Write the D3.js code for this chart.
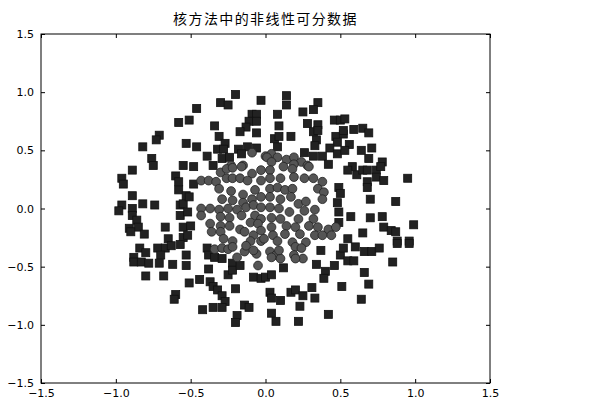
<!DOCTYPE html>
<html>
<head>
<meta charset="utf-8">
<script src="https://cdn.jsdelivr.net/npm/d3@7"></script>
<style>
  html, body { margin: 0; padding: 0; background: #fff; }
  svg { display: block; }
</style>
</head>
<body>
<svg id="chart" width="612" height="409"></svg>
<script>
const title = "核方法中的非线性可分数据";
const xTicks = [-1.5, -1.0, -0.5, 0.0, 0.5, 1.0, 1.5];
const yTicks = [-1.5, -1.0, -0.5, 0.0, 0.5, 1.0, 1.5];

// Outer class (squares)
const squares = [
  [-0.58,0.74],[-0.51,0.76],[-0.71,0.63],[-0.73,0.59],[-0.82,0.53],[-0.53,0.56],[-0.76,0.43],[-0.75,0.37],
  [-0.55,0.37],[-0.89,0.33],[-0.20,0.98],[-0.30,0.91],[-0.25,0.89],[-0.03,0.93],[-0.46,0.86],[-0.09,0.81],
  [-0.06,0.81],[-0.11,0.75],[-0.06,0.75],[-0.13,0.70],[-0.34,0.71],[-0.17,0.66],[-0.06,0.65],[-0.31,0.62],
  [-0.46,0.53],[-0.27,0.56],[-0.32,0.51],[-0.28,0.51],[-0.18,0.51],[-0.12,0.53],[-0.16,0.47],[-0.06,0.52],
  [-0.39,0.45],[-0.29,0.43],[-0.24,0.44],[-0.48,0.36],[-0.35,0.37],
  [0.14,0.97],[0.14,0.89],[0.35,0.91],[0.32,0.85],[0.08,0.81],[0.25,0.83],[0.46,0.76],[0.50,0.76],
  [0.28,0.73],[0.35,0.72],[0.09,0.71],[0.32,0.66],[0.35,0.67],[0.17,0.62],[0.06,0.60],[0.09,0.62],
  [0.47,0.62],[0.52,0.64],[0.34,0.59],[0.48,0.57],[0.08,0.53],[0.33,0.54],[0.43,0.52],[0.26,0.48],
  [0.32,0.45],[0.38,0.45],[0.48,0.47],[0.42,0.38],
  [0.53,0.77],[0.52,0.67],[0.59,0.68],[0.65,0.69],[0.69,0.65],[0.56,0.55],[0.53,0.50],[0.64,0.50],
  [0.71,0.52],[0.69,0.43],[0.78,0.40],[0.58,0.36],
  [-0.96,0.26],[-0.95,0.21],[-0.60,0.28],[-0.58,0.23],[-0.58,0.16],[-0.53,0.11],[-0.89,0.11],[-0.96,0.03],
  [-0.98,-0.02],[-0.82,0.04],[-0.74,0.03],[-0.89,0.00],[-0.57,0.03],[-0.55,0.04],[-0.57,-0.06],[-0.89,-0.06],
  [-0.86,-0.10],[-0.85,-0.16],[-0.91,-0.17],[-0.90,-0.20],[-0.81,-0.22],[-0.67,-0.16],[-0.55,-0.16],[-0.65,-0.26],
  [-0.55,-0.25],
  [-0.48,0.21],[-0.51,0.10],[-0.52,-0.03],[-0.50,-0.15],[-0.52,-0.23],
  [0.49,0.18],[0.50,0.13],[0.48,0.05],[0.49,-0.03],[0.49,-0.12],
  [0.55,0.33],[0.61,0.29],[0.65,0.33],[0.68,0.33],[0.74,0.33],[0.77,0.36],[0.74,0.27],[0.79,0.24],
  [0.68,0.23],[0.68,0.18],[0.95,0.26],[0.70,0.08],[0.87,0.06],[0.57,-0.07],[0.70,-0.08],[0.78,-0.07],
  [0.99,-0.14],[0.79,-0.16],[0.84,-0.19],[0.87,-0.20],[0.65,-0.21],[0.55,-0.26],[0.88,-0.28],[0.96,-0.28],
  [-0.84,-0.34],[-0.72,-0.34],[-0.67,-0.34],[-0.63,-0.32],[-0.57,-0.31],[-0.80,-0.38],[-0.88,-0.42],[-0.88,-0.46],
  [-0.83,-0.46],[-0.78,-0.47],[-0.71,-0.47],[-0.70,-0.40],[-0.62,-0.48],[-0.53,-0.49],[-0.53,-0.40],[-0.80,-0.58],
  [-0.68,-0.58],[-0.51,-0.64],[-0.60,-0.74],[-0.61,-0.78],
  [-0.39,-0.34],[-0.38,-0.40],[-0.34,-0.42],[-0.29,-0.43],[-0.38,-0.52],[-0.44,-0.61],[-0.37,-0.63],[-0.35,-0.67],
  [-0.32,-0.70],[-0.29,-0.75],[-0.27,-0.80],[-0.29,-0.85],[-0.35,-0.85],[-0.42,-0.87],[-0.25,-0.57],[-0.22,-0.47],
  [-0.22,-0.53],[-0.17,-0.49],[-0.20,-0.69],[-0.14,-0.83],[-0.11,-0.85],[-0.19,-0.92],[-0.20,-0.98],[-0.08,-0.59],
  [-0.03,-0.60],
  [0.12,-0.51],[0.37,-0.36],[0.34,-0.48],[0.40,-0.54],[0.46,-0.49],[0.39,-0.60],[0.50,-0.40],[0.51,-0.67],
  [0.00,-0.59],[0.04,-0.57],[0.03,-0.72],[0.04,-0.77],[0.10,-0.79],[0.17,-0.72],[0.20,-0.70],[0.25,-0.75],
  [0.31,-0.68],[0.33,-0.77],[0.23,-0.84],[0.04,-0.90],[0.07,-0.97],[0.22,-0.97],[0.42,-0.91],
  [0.52,-0.34],[0.60,-0.33],[0.66,-0.37],[0.71,-0.37],[0.76,-0.34],[0.88,-0.30],[0.96,-0.30],[0.55,-0.45],
  [0.59,-0.45],[0.85,-0.46],[0.66,-0.55],[0.69,-0.65],[0.64,-0.78]
];

// Inner class (circles)
const circles = [
  [-0.09,0.48],[0.00,0.45],[-0.23,0.37],[-0.15,0.37],
  [0.04,0.47],[0.01,0.44],[0.08,0.44],[0.04,0.40],[0.14,0.42],[0.19,0.44],[0.24,0.40],[0.19,0.38],[0.28,0.37],
  [-0.30,0.31],[-0.26,0.34],[-0.22,0.35],[-0.16,0.36],[-0.09,0.30],[-0.03,0.33],
  [-0.43,0.24],[-0.38,0.24],[-0.33,0.23],[-0.26,0.26],[-0.22,0.26],[-0.17,0.26],[-0.12,0.24],[-0.03,0.24],
  [-0.31,0.17],[-0.23,0.15],[-0.07,0.16],[-0.15,0.12],[-0.09,0.08],[-0.03,0.10],
  [-0.29,0.08],[-0.22,0.07],[-0.15,0.05],
  [-0.43,0.00],[-0.37,0.00],[-0.31,-0.01],[-0.25,0.00],[-0.19,-0.01],[-0.13,0.01],[-0.08,0.03],[-0.03,0.01],
  [-0.43,-0.06],[-0.30,-0.07],[-0.24,-0.08],[-0.16,-0.06],[-0.07,-0.06],[-0.03,-0.09],
  [-0.10,-0.12],[-0.05,-0.13],[-0.37,-0.13],[-0.30,-0.15],[-0.24,-0.15],[-0.17,-0.18],
  [-0.36,-0.20],[-0.30,-0.20],[-0.14,-0.20],[-0.08,-0.23],[-0.03,-0.19],
  [-0.28,-0.26],[-0.22,-0.28],[-0.10,-0.28],[-0.03,-0.28],
  [0.03,0.33],[0.12,0.36],[0.18,0.34],[0.29,0.36],
  [0.03,0.26],[0.10,0.26],[0.19,0.27],[0.26,0.26],[0.32,0.26],[0.38,0.23],[0.35,0.17],[0.39,0.14],[0.38,0.08],
  [0.03,0.17],[0.08,0.18],[0.13,0.16],[0.18,0.17],
  [0.03,0.10],[0.10,0.08],[0.17,0.10],[0.22,0.04],[0.27,0.06],
  [0.03,0.01],[0.09,0.00],[0.16,-0.03],[0.26,-0.02],[0.33,-0.01],[0.32,-0.09],
  [0.04,-0.08],[0.10,-0.09],[0.22,-0.09],
  [0.04,-0.16],[0.14,-0.15],[0.20,-0.16],[0.29,-0.15],[0.35,-0.16],[0.42,-0.18],[0.47,-0.16],
  [0.05,-0.23],[0.13,-0.22],[0.23,-0.22],[0.33,-0.23],[0.38,-0.23],[0.44,-0.23],
  [-0.01,-0.26],[0.08,-0.28],[0.18,-0.29],[0.27,-0.29],
  [-0.34,-0.35],[-0.29,-0.34],[-0.25,-0.35],[-0.22,-0.33],[-0.19,-0.42],[-0.14,-0.37],[-0.13,-0.32],
  [-0.06,-0.39],[-0.05,-0.49],[-0.08,-0.36],
  [0.03,-0.37],[0.07,-0.40],[0.10,-0.43],[0.04,-0.42],[0.09,-0.36],[0.20,-0.33],[0.24,-0.34],[0.19,-0.40],
  [0.25,-0.43],[0.20,-0.43]
];

const svg = d3.select("#chart");
const mLeft = 41, mRight = 490, mTop = 34, mBottom = 383;
const x = d3.scaleLinear().domain([-1.5, 1.5]).range([mLeft, mRight]);
const y = d3.scaleLinear().domain([-1.5, 1.5]).range([mBottom, mTop]);

// Title
svg.append("text")
  .attr("x", (mLeft + mRight) / 2).attr("y", 24)
  .attr("text-anchor", "middle")
  .attr("font-family", "'Noto Sans CJK SC', sans-serif")
  .attr("font-size", 14)
  .attr("letter-spacing", 1.4)
  .attr("fill", "#000")
  .text(title);

// Points
const sq = 8;
svg.append("g").selectAll("rect").data(squares).join("rect")
  .attr("x", d => x(d[0]) - sq / 2).attr("y", d => y(d[1]) - sq / 2)
  .attr("width", sq).attr("height", sq)
  .attr("fill", "#222").attr("stroke", "#111").attr("stroke-width", 0.8);

svg.append("g").selectAll("circle").data(circles).join("circle")
  .attr("cx", d => x(d[0])).attr("cy", d => y(d[1])).attr("r", 4.4)
  .attr("fill", "#555").attr("stroke", "#222").attr("stroke-width", 0.8);

// Axes (ticks inward on all sides)
const tickLen = 4;
const fmt = d => d3.format(".1f")(d).replace("-", "\u2212");
const axisFont = "'DejaVu Sans', sans-serif";

const bottomAxis = d3.axisBottom(x).tickValues(xTicks).tickSize(-tickLen).tickPadding(6).tickFormat(fmt);
const topAxis = d3.axisTop(x).tickValues(xTicks).tickSize(-tickLen).tickFormat(() => "");
const leftAxis = d3.axisLeft(y).tickValues(yTicks).tickSize(-tickLen).tickPadding(7).tickFormat(fmt);
const rightAxis = d3.axisRight(y).tickValues(yTicks).tickSize(-tickLen).tickFormat(() => "");

function style(g) {
  g.select(".domain").remove();
  g.selectAll(".tick line").attr("stroke", "#000").attr("stroke-width", 1);
  g.selectAll(".tick text").attr("fill", "#000").attr("font-family", axisFont).attr("font-size", 11);
}

svg.append("g").attr("transform", `translate(0,${mBottom})`).call(bottomAxis).call(style);
svg.append("g").attr("transform", `translate(0,${mTop})`).call(topAxis).call(style);
svg.append("g").attr("transform", `translate(${mLeft},0)`).call(leftAxis).call(style);
svg.append("g").attr("transform", `translate(${mRight},0)`).call(rightAxis).call(style);

svg.append("rect")
  .attr("x", mLeft).attr("y", mTop).attr("width", mRight - mLeft).attr("height", mBottom - mTop)
  .attr("fill", "none").attr("stroke", "#000").attr("stroke-width", 1);
</script>
</body>
</html>
